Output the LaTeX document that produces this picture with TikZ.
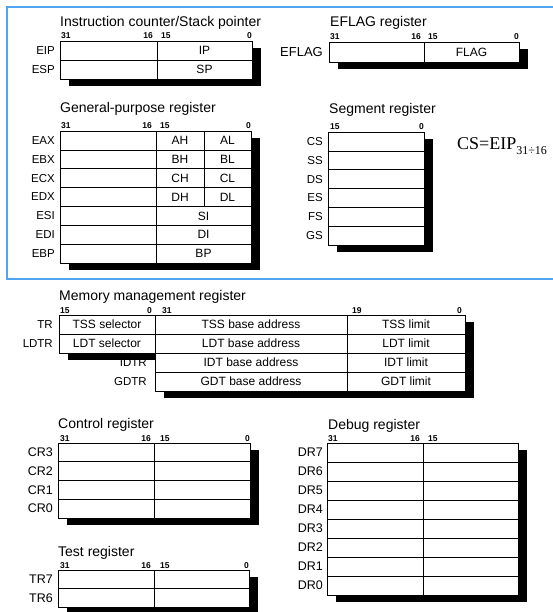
\documentclass[tikz,border=0pt]{standalone}
\usepackage{fontspec}
\setmainfont{Liberation Sans}
\newfontfamily\timesfont{Liberation Serif}
\usetikzlibrary{positioning, fit, backgrounds}
\definecolor{framecol}{RGB}{80,165,240}

\begin{document}
\begin{tikzpicture}[
    x=1pt, y=-1pt,
    cell/.style={rectangle, draw=black, line width=0.6pt, fill=white, inner sep=0pt, outer sep=0pt, minimum height=19pt, font=\fontsize{12}{12}\selectfont},
    reglabel/.style={inner sep=0pt, font=\fontsize{11.5}{12}\selectfont},
    bit/.style={inner sep=0pt, font=\fontsize{8.5}{9}\selectfont\bfseries},
    title/.style={inner sep=0pt, anchor=base west, font=\fontsize{14}{14}\selectfont},
    shadowbox/.style={fill=black, inner sep=0pt, xshift=9pt, yshift=-7pt},
    frame/.style={draw=framecol, line width=1.2pt}
]
\useasboundingbox (0,0) rectangle (552,612);

% Blue frame round the upper registers
\draw[frame] (560,7) -- (7,7) -- (7,279) -- (560,279);

% Instruction counter / stack pointer
\node[title] (ic-title) at (60,27) {Instruction counter/Stack pointer};
\node[cell, minimum width=97pt, anchor=north west] (eip-hi) at (60,41) {};
\node[cell, minimum width=95pt, right=0pt of eip-hi] (eip-lo) {IP};
\node[cell, minimum width=97pt, below=0pt of eip-hi] (esp-hi) {};
\node[cell, minimum width=95pt, below=0pt of eip-lo] (esp-lo) {SP};
\node[reglabel, left=5pt of eip-hi] (eip) {EIP};
\node[reglabel, left=5pt of esp-hi] (esp) {ESP};
\node[bit, anchor=base west] (ic-31) at ([xshift=1pt,yshift=2pt]eip-hi.north west) {31};
\node[bit, anchor=base east] (ic-16) at ([xshift=-4pt,yshift=2pt]eip-hi.north east) {16};
\node[bit, anchor=base west] (ic-15) at ([xshift=4pt,yshift=2pt]eip-lo.north west) {15};
\node[bit, anchor=base east] (ic-0) at ([yshift=2pt]eip-lo.north east) {0};

% EFLAG register
\node[title] (fl-title) at (330,27) {EFLAG register};
\node[cell, minimum width=95pt, minimum height=20pt, anchor=north west] (eflag-hi) at (329,42) {};
\node[cell, minimum width=95pt, minimum height=20pt, right=0pt of eflag-hi] (eflag-lo) {FLAG};
\node[reglabel, font=\fontsize{13}{13}\selectfont, left=6pt of eflag-hi] (eflag) {EFLAG};
\node[bit, anchor=base west] (fl-31) at ([xshift=1pt,yshift=2pt]eflag-hi.north west) {31};
\node[bit, anchor=base east] (fl-16) at ([xshift=-3pt,yshift=2pt]eflag-hi.north east) {16};
\node[bit, anchor=base west] (fl-15) at ([xshift=4pt,yshift=2pt]eflag-lo.north west) {15};
\node[bit, anchor=base east] (fl-0) at ([yshift=2pt]eflag-lo.north east) {0};

% General-purpose registers
\node[title] (gp-title) at (60,113) {General-purpose register};
\foreach \reg/\Reg/\hibyte/\lobyte [count=\i from 0] in {eax/EAX/AH/AL, ebx/EBX/BH/BL, ecx/ECX/CH/CL, edx/EDX/DH/DL} {
  \node[cell, minimum height=18.86pt, minimum width=96pt, anchor=north west] (\reg-hi) at (60,131+\i*18.86) {};
  \node[cell, minimum height=18.86pt, minimum width=48pt, right=0pt of \reg-hi] (\reg-mid) {\hibyte};
  \node[cell, minimum height=18.86pt, minimum width=47pt, right=0pt of \reg-mid] (\reg-lo) {\lobyte};
  \node[reglabel, left=5pt of \reg-hi] (\reg) {\Reg};
}
\foreach \reg/\Reg/\word [count=\i from 4] in {esi/ESI/SI, edi/EDI/DI, ebp/EBP/BP} {
  \node[cell, minimum height=18.86pt, minimum width=96pt, anchor=north west] (\reg-hi) at (60,131+\i*18.86) {};
  \node[cell, minimum height=18.86pt, minimum width=95pt, right=0pt of \reg-hi] (\reg-lo) {\word};
  \node[reglabel, left=5pt of \reg-hi] (\reg) {\Reg};
}
\node[bit, anchor=base west] (gp-31) at ([xshift=1pt,yshift=2pt]eax-hi.north west) {31};
\node[bit, anchor=base east] (gp-16) at ([xshift=-4pt,yshift=2pt]eax-hi.north east) {16};
\node[bit, anchor=base west] (gp-15) at ([xshift=4pt,yshift=2pt]eax-mid.north west) {15};
\node[bit, anchor=base east] (gp-0) at ([yshift=2pt]eax-lo.north east) {0};

% Segment registers
\node[title] (seg-title) at (329,114) {Segment register};
\foreach \reg/\Reg [count=\i from 0] in {cs/CS, ss/SS, ds/DS, es/ES, fs/FS, gs/GS} {
  \node[cell, minimum height=18.83pt, minimum width=96pt, anchor=north west] (\reg-seg) at (328,132+\i*18.83) {};
  \node[reglabel, left=5pt of \reg-seg] (\reg) {\Reg};
}
\node[bit, anchor=base west] (seg-15) at ([xshift=2pt,yshift=2pt]cs-seg.north west) {15};
\node[bit, anchor=base east] (seg-0) at ([yshift=2pt]cs-seg.north east) {0};
\node[anchor=base west, inner sep=0pt, font=\timesfont\fontsize{18}{18}\selectfont] (cs-eq) at (457,150) {CS=EIP\raisebox{-5pt}{\fontsize{12}{12}\selectfont 31÷16}};

% Memory management registers
\node[title] (mm-title) at (59,300) {Memory management register};
\node[cell, minimum width=96pt, anchor=north west] (tr-sel) at (59,315) {TSS selector};
\node[cell, minimum width=96pt, below=0pt of tr-sel] (ldtr-sel) {LDT selector};
\node[cell, minimum width=192pt, right=0pt of tr-sel] (tr-base) {TSS base address};
\node[cell, minimum width=118pt, right=0pt of tr-base] (tr-lim) {TSS limit};
\node[cell, minimum width=192pt, below=0pt of tr-base] (ldtr-base) {LDT base address};
\node[cell, minimum width=118pt, right=0pt of ldtr-base] (ldtr-lim) {LDT limit};
\node[cell, minimum width=192pt, below=0pt of ldtr-base] (idtr-base) {IDT base address};
\node[cell, minimum width=118pt, right=0pt of idtr-base] (idtr-lim) {IDT limit};
\node[cell, minimum width=192pt, below=0pt of idtr-base] (gdtr-base) {GDT base address};
\node[cell, minimum width=118pt, right=0pt of gdtr-base] (gdtr-lim) {GDT limit};
\node[reglabel, left=6pt of tr-sel] (tr) {TR};
\node[reglabel, left=6pt of ldtr-sel] (ldtr) {LDTR};
\node[reglabel, left=8pt of idtr-base] (idtr) {IDTR};
\node[reglabel, left=8pt of gdtr-base] (gdtr) {GDTR};
\node[bit, anchor=base west] (mm-15) at ([xshift=1pt,yshift=2pt]tr-sel.north west) {15};
\node[bit, anchor=base east] (mm-0a) at ([xshift=-3pt,yshift=2pt]tr-sel.north east) {0};
\node[bit, anchor=base west] (mm-31) at ([xshift=7pt,yshift=2pt]tr-base.north west) {31};
\node[bit, anchor=base west] (mm-19) at ([xshift=5pt,yshift=2pt]tr-lim.north west) {19};
\node[bit, anchor=base east] (mm-0b) at ([xshift=-3pt,yshift=2pt]tr-lim.north east) {0};

% Control, test and debug registers
\begin{scope}[reglabel/.append style={font=\fontsize{12.5}{13}\selectfont}]
\node[title] (cr-title) at (58,428) {Control register};
\foreach \reg/\Reg [count=\i from 0] in {cr3/CR3, cr2/CR2, cr1/CR1, cr0/CR0} {
  \node[cell, minimum height=18.75pt, minimum width=96pt, anchor=north west] (\reg-hi) at (58,443+\i*18.75) {};
  \node[cell, minimum height=18.75pt, minimum width=96pt, right=0pt of \reg-hi] (\reg-lo) {};
  \node[reglabel, left=5pt of \reg-hi] (\reg) {\Reg};
}
\node[bit, anchor=base west] (cr-31) at ([xshift=2pt,yshift=2pt]cr3-hi.north west) {31};
\node[bit, anchor=base east] (cr-16) at ([xshift=-3pt,yshift=2pt]cr3-hi.north east) {16};
\node[bit, anchor=base west] (cr-15) at ([xshift=6pt,yshift=2pt]cr3-lo.north west) {15};
\node[bit, anchor=base east] (cr-0) at ([yshift=2pt]cr3-lo.north east) {0};

\node[title] (test-title) at (58,556) {Test register};
\foreach \reg/\Reg [count=\i from 0] in {tr7/TR7, tr6/TR6} {
  \node[cell, minimum height=18.5pt, minimum width=96pt, anchor=north west] (\reg-hi) at (58,570+\i*18.5) {};
  \node[cell, minimum height=18.5pt, minimum width=95pt, right=0pt of \reg-hi] (\reg-lo) {};
  \node[reglabel, left=5pt of \reg-hi] (\reg) {\Reg};
}
\node[bit, anchor=base west] (test-31) at ([xshift=2pt,yshift=2pt]tr7-hi.north west) {31};
\node[bit, anchor=base east] (test-16) at ([xshift=-3pt,yshift=2pt]tr7-hi.north east) {16};
\node[bit, anchor=base west] (test-15) at ([xshift=6pt,yshift=2pt]tr7-lo.north west) {15};
\node[bit, anchor=base east] (test-0) at ([yshift=2pt]tr7-lo.north east) {0};

\node[title] (dr-title) at (328,429) {Debug register};
\foreach \reg/\Reg [count=\i from 0] in {dr7/DR7, dr6/DR6, dr5/DR5, dr4/DR4, dr3/DR3, dr2/DR2, dr1/DR1, dr0/DR0} {
  \node[cell, minimum width=96pt, anchor=north west] (\reg-hi) at (327,443+\i*19) {};
  \node[cell, minimum width=95pt, right=0pt of \reg-hi] (\reg-lo) {};
  \node[reglabel, left=4pt of \reg-hi] (\reg) {\Reg};
}
\node[bit, anchor=base west] (dr-31) at ([xshift=1pt,yshift=2pt]dr7-hi.north west) {31};
\node[bit, anchor=base east] (dr-16) at ([xshift=-3pt,yshift=2pt]dr7-hi.north east) {16};
\node[bit, anchor=base west] (dr-15) at ([xshift=5pt,yshift=2pt]dr7-lo.north west) {15};
\end{scope}

% Drop shadows behind every register block
\begin{scope}[on background layer]
  \node[shadowbox, fit=(eip-hi) (esp-lo)] (ic-shadow) {};
  \node[shadowbox, fit=(eflag-hi) (eflag-lo)] (fl-shadow) {};
  \node[shadowbox, fit=(eax-hi) (ebp-lo)] (gp-shadow) {};
  \node[shadowbox, fit=(cs-seg) (gs-seg)] (seg-shadow) {};
  \node[shadowbox, fit=(tr-sel) (ldtr-sel)] (sel-shadow) {};
  \node[shadowbox, fit=(tr-base) (gdtr-lim)] (mm-shadow) {};
  \node[shadowbox, fit=(cr3-hi) (cr0-lo)] (cr-shadow) {};
  \node[shadowbox, fit=(tr7-hi) (tr6-lo)] (test-shadow) {};
  \node[shadowbox, fit=(dr7-hi) (dr0-lo)] (dr-shadow) {};
\end{scope}

\end{tikzpicture}
\end{document}
